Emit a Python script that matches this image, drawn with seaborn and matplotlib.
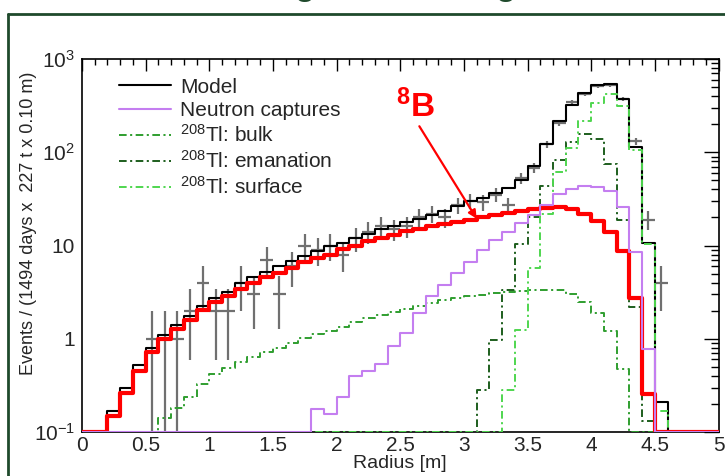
import numpy as np
import pandas as pd
import matplotlib
matplotlib.use("Agg")
import matplotlib.pyplot as plt
import seaborn as sns
from matplotlib.lines import Line2D
from matplotlib.ticker import FixedLocator, FixedFormatter, MultipleLocator, LogLocator, NullFormatter

# ---------------------------------------------------------------- data
bin_edges = np.round(np.arange(0.0, 5.0001, 0.1), 2)          # 0.10 m bins

model = [0, 0, 0.17, 0.30, 0.52, 0.79, 1.1, 1.4, 1.77, 2.22,
         2.74, 3.2, 3.98, 4.6, 5.2, 6.0, 6.8, 7.8, 8.7, 9.8,
         10.7, 12.1, 13.4, 14.9, 16.1, 17.8, 19.4, 21.5, 23.7, 26.5,
         29.9, 32.6, 36.5, 41.7, 51, 71, 122, 214, 320, 431,
         530, 545, 372, 115, 10.7, 0.208, 0, 0, 0, 0]

boron8 = [0, 0, 0.15, 0.265, 0.456, 0.72, 1.0, 1.27, 1.6, 2.02,
          2.46, 2.85, 3.42, 3.98, 4.6, 5.09, 5.76, 6.6, 7.4, 8.0,
          9.1, 10.0, 11.1, 12.1, 13.1, 14.3, 15.1, 16.1, 16.8, 17.8,
          19.0, 20.0, 21.0, 22.2, 23.2, 24.5, 25.3, 26.0, 24.7, 22.0,
          18.3, 14.0, 8.7, 2.75, 0.255, 0, 0, 0, 0, 0]

neutron_captures = [0] * 18 + [
    0.175, 0.155, 0.24, 0.40, 0.45, 0.53, 0.83, 1.14, 1.9, 2.85,
    3.8, 5.1, 6.7, 8.9, 11.4, 14.0, 17.5, 21.0, 27.0, 36.0,
    40.0, 43.0, 42.0, 38.0, 26.0, 8.5, 0.78] + [0] * 5

tl208_bulk = [0] * 6 + [
    0.14, 0.18, 0.24, 0.33, 0.42, 0.48, 0.57, 0.64, 0.72, 0.80,
    0.90, 1.02, 1.12, 1.20, 1.35, 1.50, 1.65, 1.80, 1.95, 2.08,
    2.25, 2.42, 2.60, 2.75, 2.85, 2.97, 3.08, 3.20, 3.28, 3.35,
    3.35, 3.30, 3.00, 2.50, 1.90, 1.20, 0.47] + [0] * 7

tl208_emanation = [0] * 31 + [
    0.28, 0.96, 3.36, 10.5, 20, 43, 82, 128, 157, 140,
    74, 19, 2.2, 0.13] + [0] * 5

tl208_surface = [0] * 33 + [
    0.28, 1.23, 5.75, 22, 62, 110, 215, 335, 420, 315,
    105, 10.3, 0.17] + [0] * 4

data_radius = np.round(np.arange(0.55, 4.5501, 0.1), 2)
data_counts = [1, 1, 1, 2, 4, 2, 2, 4, 3, 7,
               3, 6, 10, 9, 10, 8, 12, 14, 16, 15,
               16, 20, 22, 20, 27, 30, 29, 35, 27, 53,
               68, 122, 208, 342, 420, 516, 525, 372, 132, 19,
               4]

x_ticks = [0, 0.5, 1, 1.5, 2, 2.5, 3, 3.5, 4, 4.5, 5]
x_tick_labels = ["0", "0.5", "1", "1.5", "2", "2.5", "3", "3.5", "4", "4.5", "5"]
y_ticks = [0.1, 1, 10, 100, 1000]
y_tick_labels = [r"$10^{-1}$", "1", "10", r"$10^{2}$", r"$10^{3}$"]

Y_MIN, Y_MAX = 0.1, 1000

# ---------------------------------------------------------------- style
sns.set_theme(style="white")
plt.rcParams.update({
    "font.family": ["Liberation Sans", "DejaVu Sans"],
    "mathtext.fontset": "custom",
    "mathtext.rm": "Liberation Sans",
    "mathtext.it": "Liberation Sans:italic",
    "mathtext.bf": "Liberation Sans:bold",
    "lines.scale_dashes": False,
})

DASHDOT = (0, (5.5, 2.5, 1.5, 2.5))
components = [
    # label, values, colour, width, style, zorder
    ("Model", model, "black", 1.5, "-", 3),
    ("208Tl bulk", tl208_bulk, "#2f9e2f", 1.4, DASHDOT, 3.2),
    ("208Tl emanation", tl208_emanation, "#1d5e1d", 1.4, DASHDOT, 3.3),
    ("208Tl surface", tl208_surface, "#4fd64f", 1.4, DASHDOT, 3.4),
    ("8B", boron8, "#ff0000", 3.0, "-", 4),
    ("Neutron captures", neutron_captures, "#c47ef0", 1.5, "-", 4.5),
]

fig = plt.figure(figsize=(7.25, 4.76), dpi=100)
W, H = 725, 476
ax = fig.add_axes([82 / W, (H - 432) / H, (718.5 - 82) / W, (432 - 59) / H])

# histograms drawn as step lines (empty bins sit on the lower axis edge)
for name, values, colour, lw, ls, z in components:
    vals = np.asarray(values, dtype=float)
    vals = np.where(vals > 0, vals, Y_MIN)
    df = pd.DataFrame({"radius": bin_edges,
                       "events": np.append(vals, vals[-1])})
    sns.lineplot(data=df, x="radius", y="events", ax=ax, estimator=None,
                 sort=False, drawstyle="steps-post", color=colour,
                 linewidth=lw, linestyle=ls, zorder=z)

# measured counts with Poisson errors
counts = np.asarray(data_counts, dtype=float)
err = np.sqrt(counts)
low = np.minimum(err, counts - 1e-3)
ax.errorbar(data_radius, counts, yerr=[low, err], xerr=0.05, fmt="none",
            ecolor="#707070", elinewidth=1.6, capsize=0, zorder=2.5)

ax.set_yscale("log")
ax.set_xlim(0, 5)
ax.set_ylim(Y_MIN, Y_MAX)
ax.set_xlabel("")
ax.set_ylabel("")

ax.xaxis.set_major_locator(FixedLocator(x_ticks))
ax.xaxis.set_major_formatter(FixedFormatter(x_tick_labels))
ax.xaxis.set_minor_locator(MultipleLocator(0.1))
ax.yaxis.set_major_locator(FixedLocator(y_ticks))
ax.yaxis.set_major_formatter(FixedFormatter(y_tick_labels))
ax.yaxis.set_minor_locator(LogLocator(base=10, subs=np.arange(2, 10)))
ax.yaxis.set_minor_formatter(NullFormatter())

ax.tick_params(which="both", direction="in", top=True, right=True,
               color="black", width=1.0, labelsize=15)
ax.tick_params(axis="x", which="major", length=8.5, pad=3)
ax.tick_params(axis="x", which="minor", length=4.3)
ax.tick_params(axis="y", which="major", length=11, pad=5)
ax.tick_params(axis="y", which="minor", length=5.8)
for sp in ax.spines.values():
    sp.set_color("black")
    sp.set_linewidth(1.2)

# legend
handles = [
    Line2D([], [], color="black", lw=1.5),
    Line2D([], [], color="#c47ef0", lw=1.5),
    Line2D([], [], color="#2f9e2f", lw=1.4, ls=DASHDOT),
    Line2D([], [], color="#1d5e1d", lw=1.4, ls=DASHDOT),
    Line2D([], [], color="#4fd64f", lw=1.4, ls=DASHDOT),
]
labels = ["Model", "Neutron captures", r"$^{208}$Tl: bulk",
          r"$^{208}$Tl: emanation", r"$^{208}$Tl: surface"]
ax.legend(handles, labels, loc="upper left", bbox_to_anchor=(0.045, 0.972),
          frameon=False, fontsize=15, handlelength=2.5, handletextpad=0.45,
          labelspacing=0.2, borderaxespad=0)

# 8B label with arrow
ax.annotate("", xy=(3.1, 19.4), xytext=(2.65, 190),
            arrowprops=dict(arrowstyle="-|>", color="#ff0000", lw=1.6,
                            mutation_scale=12, shrinkA=0, shrinkB=0), zorder=6)
ax.text(2.62, 200, r"$^{\mathbf{8}}$B", color="#ff0000", fontsize=24,
        fontweight="bold", ha="center", va="bottom", zorder=6)

# axis titles
fig.text(29 / W, 1 - 72 / H, "Events / (1494 days x  227 t x 0.10 m)",
         rotation=90, ha="center", va="top", fontsize=13)
fig.text(400 / W, 1 - 463 / H, "Radius [m]", ha="center", va="center",
         fontsize=14)

# slide frame and the descenders of its heading
frame_col = "#1f4a2c"
fig.add_artist(Line2D([8 / W, 8 / W], [0, 1 - 14 / H], transform=fig.transFigure,
                      color=frame_col, lw=2))
fig.add_artist(Line2D([8 / W, 1], [1 - 14 / H, 1 - 14 / H], transform=fig.transFigure,
                      color=frame_col, lw=2))
for gx in (305, 506):
    fig.text(gx / W, 1 + 5 / H, "g", ha="center", va="baseline", fontsize=24,
             fontweight="bold", color=frame_col)

fig.savefig("out.png", dpi=100)
